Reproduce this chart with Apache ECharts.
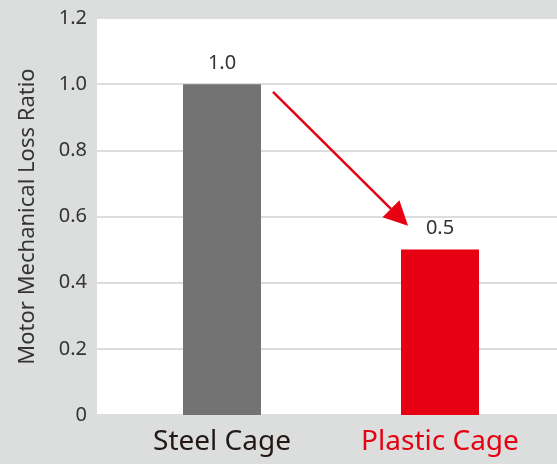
<!DOCTYPE html>
<html>
<head>
<meta charset="utf-8">
<script src="https://cdn.jsdelivr.net/npm/echarts@6/dist/echarts.min.js"></script>
<style>
    html, body { margin: 0; padding: 0; background: #dcdddd; }
    #chart { width: 557px; height: 464px; }
</style>
</head>
<body>
<div id="chart"></div>
<script>
    // data
    const categories = ['Steel Cage', 'Plastic Cage'];
    const lossRatio = [1.0, 0.5];
    const barColors = ['#737373', '#e60012'];
    const labelColors = ['#231815', '#e60012'];
    const yTicks = [0, 0.2, 0.4, 0.6, 0.8, 1.0, 1.2];
    // arrow runs from near the steel bar top to above the plastic bar
    const arrowFrom = 0.977;
    const arrowTo = 0.572;

    const chart = echarts.init(document.getElementById('chart'));

    const option = {
        backgroundColor: '#dcdddd',
        animation: false,
        textStyle: { fontFamily: 'Noto Sans' },
        grid: [
            // background grid: white plot area, y labels and split lines
            {
                left: 97, right: 0, top: 18, bottom: 49,
                show: true, backgroundColor: '#ffffff', borderWidth: 0
            },
            // grid holding the bars
            { left: 113, right: 8, top: 18, bottom: 49 }
        ],
        xAxis: [
            { type: 'category', gridIndex: 0, data: categories, show: false },
            {
                type: 'category',
                gridIndex: 1,
                data: categories,
                axisLine: { show: false },
                axisTick: { show: false },
                axisLabel: {
                    margin: 13,
                    fontSize: 28,
                    fontFamily: 'Noto Sans',
                    color: function (val, idx) { return labelColors[idx]; }
                }
            }
        ],
        yAxis: [
            {
                type: 'value',
                gridIndex: 0,
                min: yTicks[0],
                max: yTicks[yTicks.length - 1],
                interval: 0.2,
                name: 'Motor Mechanical Loss Ratio',
                nameLocation: 'middle',
                nameGap: 58,
                nameTextStyle: { fontSize: 22, color: '#333333', fontFamily: 'Noto Sans' },
                axisLine: { show: false },
                axisTick: { show: false },
                axisLabel: {
                    margin: 10,
                    fontSize: 20,
                    color: '#333333',
                    formatter: function (v) { return v === 0 ? '0' : v.toFixed(1); }
                },
                splitLine: { lineStyle: { color: '#dcdddd', width: 2 } }
            },
            {
                type: 'value',
                gridIndex: 1,
                min: yTicks[0],
                max: yTicks[yTicks.length - 1],
                interval: 0.2,
                show: false,
                splitLine: { show: false }
            }
        ],
        series: [
            {
                type: 'bar',
                xAxisIndex: 1,
                yAxisIndex: 1,
                barWidth: 78,
                data: lossRatio.map((v, i) => ({ value: v, itemStyle: { color: barColors[i] } })),
                label: {
                    show: true,
                    position: 'top',
                    distance: 11,
                    fontSize: 20,
                    color: '#333333',
                    formatter: p => p.value.toFixed(1)
                }
            }
        ]
    };

    chart.setOption(option);

    // arrow, placed through the axis scales
    const p0 = chart.convertToPixel({ xAxisIndex: 1, yAxisIndex: 1 }, [0, arrowFrom]);
    const p1 = chart.convertToPixel({ xAxisIndex: 1, yAxisIndex: 1 }, [1, arrowTo]);
    const x0 = p0[0] + 51, y0 = p0[1];
    const x1 = p1[0] - 32, y1 = p1[1];
    const ang = Math.atan2(y1 - y0, x1 - x0);
    const headLen = 24, headW = 12;
    const bx = x1 - headLen * Math.cos(ang), by = y1 - headLen * Math.sin(ang);
    const nx = -Math.sin(ang), ny = Math.cos(ang);

    chart.setOption({
        graphic: [
            {
                type: 'line',
                shape: { x1: x0, y1: y0, x2: bx, y2: by },
                style: { stroke: '#e60012', lineWidth: 2.5 }
            },
            {
                type: 'polygon',
                shape: { points: [[x1, y1], [bx + nx * headW, by + ny * headW], [bx - nx * headW, by - ny * headW]] },
                style: { fill: '#e60012' }
            }
        ]
    });
</script>
</body>
</html>
